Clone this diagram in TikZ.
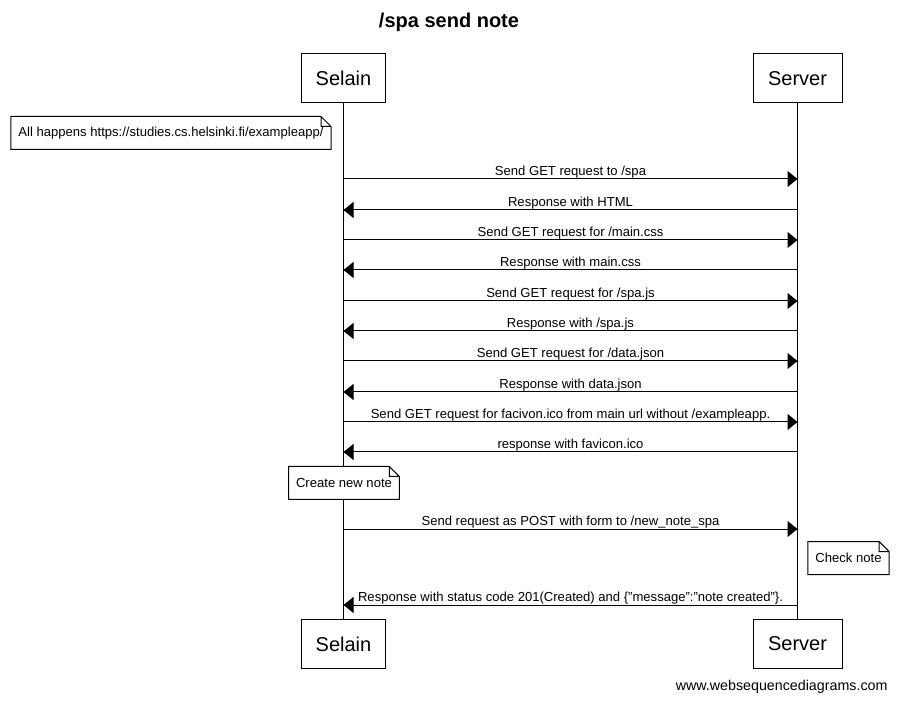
\documentclass[tikz,border=0pt]{standalone}
\usepackage{fontspec}
\setmainfont{Liberation Sans}
\usetikzlibrary{arrows.meta,positioning}

\begin{document}
\begin{tikzpicture}[
  x=0.75pt, y=-0.75pt,
  line width=0.75pt,
  actor/.style={rectangle, draw, minimum height=36.75pt, inner xsep=10.5pt, font=\fontsize{15}{18}\selectfont},
  life/.style={draw, line width=0.75pt},
  msg/.style={-{Triangle[length=7.5pt, width=12pt]}, draw, line width=0.75pt},
  lbl/.style={above, inner sep=0.2pt, font=\fontsize{9.8}{11.7}\selectfont},
  note/.style={rectangle, fill=white, minimum height=24pt, inner xsep=5.25pt, font=\fontsize{9.8}{11.7}\selectfont}
]
  \useasboundingbox (0,0) rectangle (897,702);

  \node[font=\bfseries\fontsize{15}{18}\selectfont] (title) at (449,22) {/spa send note};

  % participants
  \node[actor] (selT) at (343.5,78.5) {Selain};
  \node[actor, minimum width=66.75pt] (serT) at (797.5,78.5) {Server};
  \node[actor] (selB) at (343.5,644) {Selain};
  \node[actor, minimum width=66.75pt] (serB) at (797.5,644) {Server};
  \draw[life] (selT) -- (selB);
  \draw[life] (serT) -- (serB);

  % notes
  \node[note] (allnote) at (171,133) {All happens https://studies.cs.helsinki.fi/exampleapp/};
  \node[note] (createnote) at (344,483) {Create new note};
  \node[note] (checknote) at (848.5,558) {Check note};
  \foreach \n in {allnote,createnote,checknote}
    \draw (\n.north west) -- ([xshift=-7.5pt]\n.north east) -- ([yshift=-7.5pt]\n.north east)
      -- (\n.south east) -- (\n.south west) -- cycle
      ([xshift=-7.5pt]\n.north east) |- ([yshift=-7.5pt]\n.north east);

  % messages
  \foreach \y/\from/\to/\txt [count=\i] in {
    179/s/v/{Send GET request to /spa},
    210/v/s/{Response with HTML},
    240/s/v/{Send GET request for /main.css},
    270/v/s/{Response with main.css},
    301/s/v/{Send GET request for /spa.js},
    331/v/s/{Response with /spa.js},
    361/s/v/{Send GET request for /data.json},
    392/v/s/{Response with data.json},
    422/s/v/{Send GET request for facivon.ico from main url without /exampleapp.},
    452/v/s/{response with favicon.ico},
    529/s/v/{Send request as POST with form to /new\_note\_spa},
    605/v/s/{Response with status code 201(Created) and \{"message":"note created"\}.}} {
    \coordinate (s\i) at (selT.south |- 0,\y);
    \coordinate (v\i) at (serT.south |- 0,\y);
    \draw[msg] (\from\i) -- node[lbl] {\txt} (\to\i);
  }

  \node[anchor=east, inner sep=0pt, font=\fontsize{10.7}{12.8}\selectfont] (credit) at (888,687) {www.websequencediagrams.com};
\end{tikzpicture}
\end{document}
